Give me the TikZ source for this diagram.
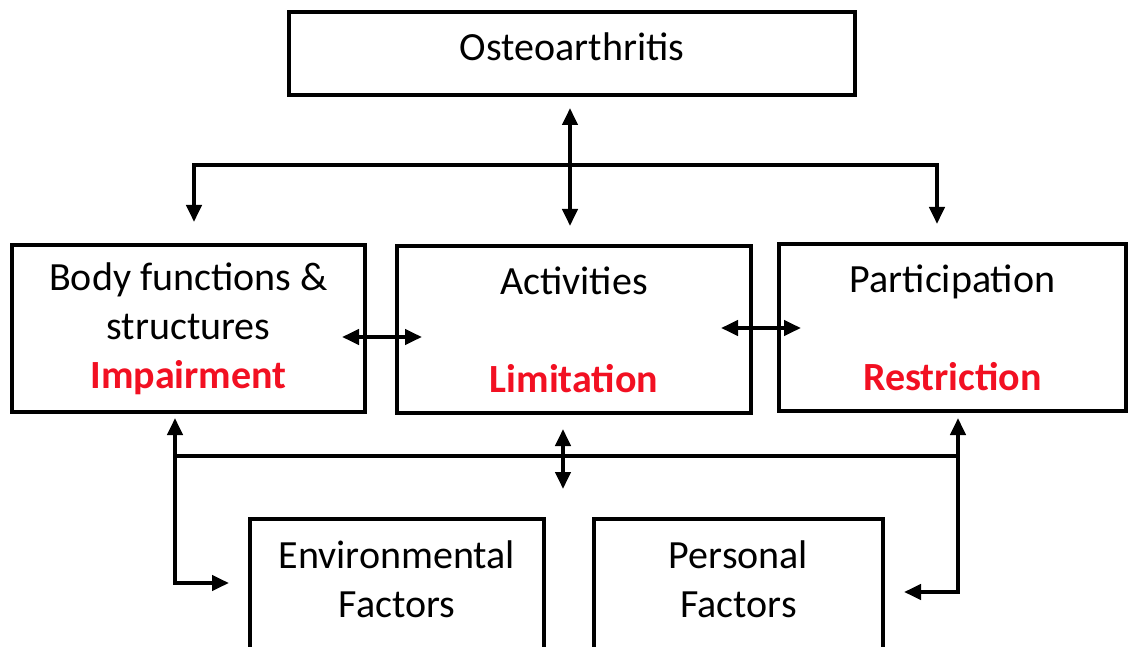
\documentclass[tikz,border=0pt]{standalone}
\usepackage{fontspec}
\setmainfont{Carlito}
\usetikzlibrary{arrows.meta}
\definecolor{icfred}{RGB}{242,16,34}
\tikzset{
  box/.style={draw, line width=4pt, align=center, inner sep=0pt,
    font=\fontsize{40}{49}\selectfont},
  link/.style={line width=4pt,
    {Triangle[length=17pt,width=15pt]}-{Triangle[length=17pt,width=15pt]}},
  bar/.style={line width=3.5pt},
}
\newcommand{\qual}[1]{{\color{icfred}\bfseries #1}}

\begin{document}
\begin{tikzpicture}[x=1pt,y=-1pt]
\useasboundingbox (0,0) rectangle (1130,647);

% boxes
\node[box, minimum width=566pt, minimum height=83pt, text depth=14pt] (oa) at (572,53.5) {Osteoarthritis};

\node[box, minimum width=353pt, minimum height=167pt] (body) at (188.5,328.5) {Body functions \&\\structures\\\qual{Impairment}};
\node[box, minimum width=354pt, minimum height=167pt] (act) at (574,329.5) {Activities\\\strut\\\qual{Limitation}};
\node[box, minimum width=347pt, minimum height=166pt] (part) at (952.5,327.5) {Participation\\\strut\\\qual{Restriction}};

\node[box, minimum width=294pt, minimum height=134pt, text depth=14pt] (env) at (397,586) {Environmental\\Factors};
\node[box, minimum width=289pt, minimum height=134pt, text depth=14pt] (pers) at (738.5,586) {Personal\\Factors};

% top: osteoarthritis to the three components
\coordinate (oaout) at (570,108);
\coordinate (actin) at (570,226);
\coordinate (barL) at (194,165);
\coordinate (barR) at (937,165);
\coordinate (bodyin) at (194,222);
\coordinate (partin) at (937,224);

\draw[link] (oaout) -- (actin);
\draw[link] (bodyin) -- (barL) -- (barR) -- (partin);

% between the components
\coordinate (ba1) at (342,337);
\coordinate (ba2) at (422,337);
\coordinate (ap1) at (721,328);
\coordinate (ap2) at (801,328);
\draw[link] (ba1) -- (ba2);
\draw[link] (ap1) -- (ap2);

% bottom: contextual factors
\coordinate (lowL) at (175,456);
\coordinate (lowR) at (958,456);
\coordinate (bodyout) at (175,418);
\coordinate (partout) at (958,418);
\coordinate (envin) at (229,583);
\coordinate (persin) at (904,592);
\coordinate (actout) at (563,429);
\coordinate (ctxin) at (563,489);

\draw[bar] (lowL) -- (lowR);
\draw[link] (bodyout) |- (envin);
\draw[link] (partout) |- (persin);
\draw[link] (actout) -- (ctxin);

\end{tikzpicture}
\end{document}
